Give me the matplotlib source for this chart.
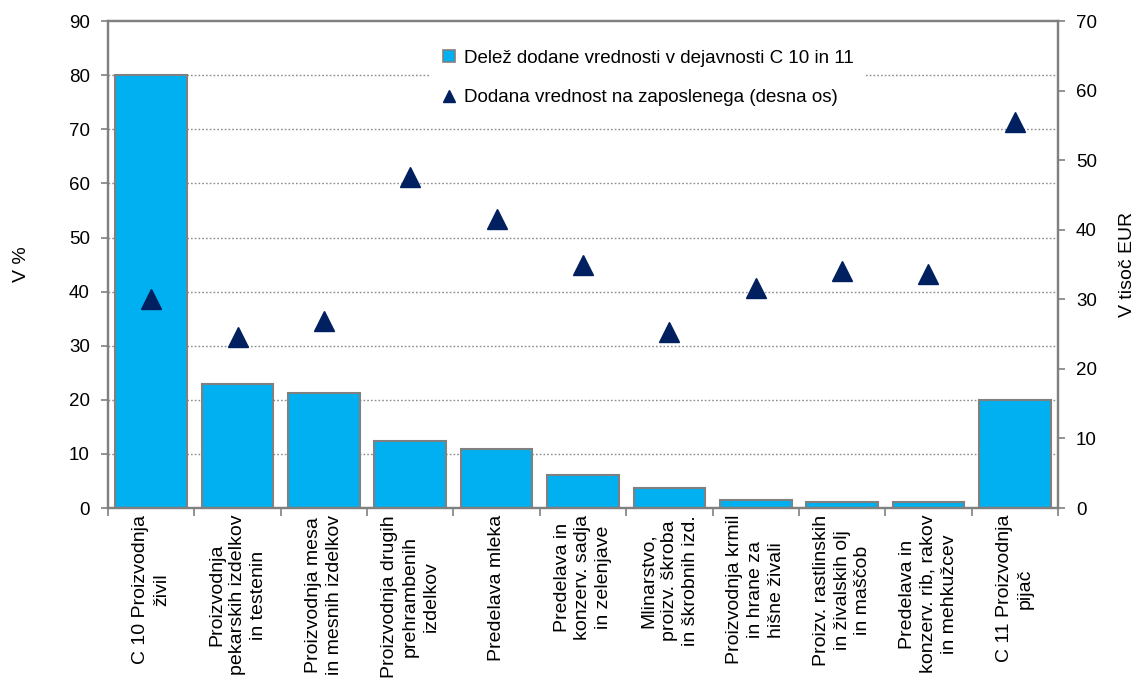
import matplotlib.pyplot as plt
from matplotlib.lines import Line2D

plt.rcParams['font.family'] = ['Liberation Sans', 'DejaVu Sans']

# Data
categories = [
    "C 10 Proizvodnja\nživil",
    "Proizvodnja\npekarskih izdelkov\nin testenin",
    "Proizvodnja mesa\nin mesnih izdelkov",
    "Proizvodnja drugih\nprehrambenih\nizdelkov",
    "Predelava mleka",
    "Predelava in\nkonzerv. sadja\nin zelenjave",
    "Mlinarstvo,\nproizv. škroba\nin škrobnih izd.",
    "Proizvodnja krmil\nin hrane za\nhišne živali",
    "Proizv. rastlinskih\nin živalskih olj\nin maščob",
    "Predelava in\nkonzerv. rib, rakov\nin mehkužcev",
    "C 11 Proizvodnja\npijač",
]
share_pct = [80.0, 23.0, 21.3, 12.4, 11.0, 6.1, 3.7, 1.5, 1.1, 1.1, 20.0]
va_per_employee = [30.1, 24.6, 26.9, 47.6, 41.6, 34.9, 25.3, 31.6, 34.1, 33.6, 55.5]

left_ticks = [0, 10, 20, 30, 40, 50, 60, 70, 80, 90]
right_ticks = [0, 10, 20, 30, 40, 50, 60, 70]

bar_color = "#00B0F0"
edge_gray = "#808080"
marker_color = "#002060"

fig = plt.figure(figsize=(11.39, 6.81), dpi=100)
ax = fig.add_axes([0.0948, 0.254, 0.8341, 0.715])
ax2 = ax.twinx()

x = list(range(len(categories)))
ax.bar(x, share_pct, width=0.83, color=bar_color, edgecolor=edge_gray,
       linewidth=1.5, zorder=2)
ax2.plot(x, va_per_employee, linestyle="none", marker="^", markersize=15,
         color=marker_color, zorder=3)

ax.set_xlim(-0.5, len(categories) - 0.5)
ax.set_ylim(0, 90)
ax2.set_ylim(0, 70)
ax.set_yticks(left_ticks)
ax2.set_yticks(right_ticks)

# category boundaries as ticks, labels centred on the bars
ax.set_xticks([i - 0.5 for i in range(len(categories) + 1)])
ax.set_xticklabels([])
ax.set_xticks(x, minor=True)
ax.set_xticklabels(categories, minor=True, rotation=90, ha="center",
                   va="top", multialignment="center", fontsize=14,
                   linespacing=1.3)
ax.tick_params(axis="x", which="minor", length=0, pad=5)
ax.tick_params(axis="x", which="major", length=6, width=1.2, color=edge_gray)
ax.tick_params(axis="y", length=5, width=1.2, color=edge_gray, pad=8,
               labelsize=13.5)
ax2.tick_params(axis="y", length=5, width=1.2, color=edge_gray, pad=8,
                labelsize=13.5)

for a in (ax, ax2):
    for s in a.spines.values():
        s.set_color(edge_gray)
        s.set_linewidth(1.6)

for v in left_ticks[1:-1]:
    ax.axhline(v, color="#8C8C8C", linestyle=(0, (1.2, 1.5)), linewidth=1.0,
               zorder=1)

ax.set_ylabel("V %", fontsize=14)
ax.yaxis.set_label_coords(-0.082, 0.5)
ax2.set_ylabel("V tisoč EUR", fontsize=14)
ax2.yaxis.set_label_coords(1.064, 0.5)

handles = [
    Line2D([], [], linestyle="none", marker="s", markersize=8,
           markerfacecolor=bar_color, markeredgecolor=edge_gray,
           markeredgewidth=1.2),
    Line2D([], [], linestyle="none", marker="^", markersize=9,
           color=marker_color),
]
labels = ["Delež dodane vrednosti v dejavnosti C 10 in 11",
          "Dodana vrednost na zaposlenega (desna os)"]
leg = ax2.legend(handles, labels, loc="upper left",
                 bbox_to_anchor=(0.339, 0.965), frameon=True, fontsize=13.5,
                 handlelength=0.8, handletextpad=0.4, labelspacing=1.2,
                 borderpad=0.6, borderaxespad=0)
leg.get_frame().set_facecolor("white")
leg.get_frame().set_edgecolor("none")
leg.get_frame().set_alpha(1)

fig.savefig("out.png", dpi=100)
